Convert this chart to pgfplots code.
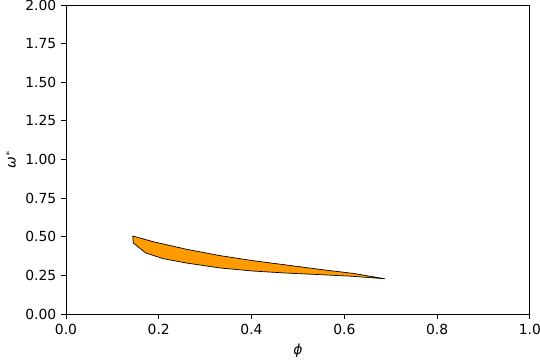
\documentclass[border=0pt]{standalone}
\usepackage{pgfplots}
\pgfplotsset{compat=1.18}
\usepackage{fontspec}
\setmainfont{DejaVu Sans}
\begin{document}
\begin{tikzpicture}
\useasboundingbox (-47.5pt,-33.1pt) rectangle (341.3pt,226.1pt);
\begin{axis}[
  scale only axis,
  width=334pt, height=222.5pt,
  xmin=0, xmax=1, ymin=0, ymax=2,
  xtick={0,0.2,...,1.0},
  ytick={0,0.25,...,2.0},
  xtick pos=left, ytick pos=left,
  tick align=outside,
  major tick length=3.5pt,
  tick style={black, line width=0.6pt},
  axis line style={line width=0.6pt},
  x tick label style={/pgf/number format/.cd, fixed, fixed zerofill, precision=1},
  y tick label style={/pgf/number format/.cd, fixed, fixed zerofill, precision=2},
  /pgf/number format/assume math mode=true,
  ticklabel style={font=\fontsize{10pt}{12pt}\selectfont},
  xlabel={\textit{ϕ}},
  ylabel={\textit{ω}$^{*}$},
  label style={font=\fontsize{10pt}{12pt}\selectfont},
]
\addplot[draw=black, line width=0.5pt, fill={rgb,255:red,255;green,155;blue,0}] coordinates {
(0.144,0.505)(0.188,0.468)(0.26,0.419)(0.332,0.378)(0.404,0.345)(0.476,0.317)(0.547,0.289)(0.619,0.263)(0.688,0.228)
(0.619,0.244)(0.547,0.255)(0.476,0.265)(0.404,0.278)(0.332,0.298)(0.26,0.330)(0.21,0.358)(0.172,0.395)(0.145,0.46)
} -- cycle;
\end{axis}
\end{tikzpicture}
\end{document}
